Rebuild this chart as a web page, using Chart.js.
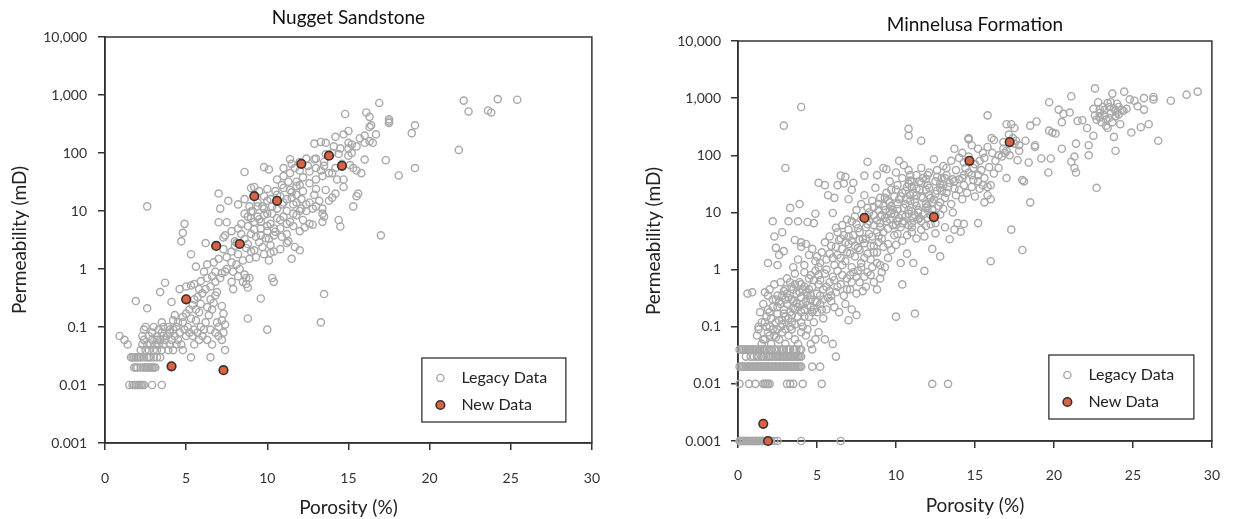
<!DOCTYPE html>
<html>
<head>
<meta charset="utf-8">
<script src="https://cdn.jsdelivr.net/npm/chart.js@4.4.1/dist/chart.umd.min.js"></script>
<style>
  body { margin: 0; background: #fff; }
  canvas { position: absolute; top: 0; }
</style>
</head>
<body>
<canvas id="nugget" width="620" height="519" style="left:0"></canvas>
<canvas id="minnelusa" width="619" height="519" style="left:620px"></canvas>
<script>
const FONT = "Lato, 'Open Sans', sans-serif";

const xTicks = [0, 5, 10, 15, 20, 25, 30];
const yTicks = [0.001, 0.01, 0.1, 1, 10, 100, 1000, 10000];
const yTickLabels = ["0.001", "0.01", "0.1", "1", "10", "100", "1,000", "10,000"];

// [porosity %, permeability mD]
const nuggetLegacy = [
  [1.5,0.01],[1.7,0.01],[1.8,0.01],[1.9,0.01],[2.0,0.01],[2.1,0.01],[2.2,0.01],[2.3,0.01],[2.4,0.01],[2.9,0.01],[3.5,0.01],
  [1.8,0.02],[1.9,0.02],[2.0,0.02],[2.2,0.02],[2.4,0.02],[2.5,0.02],[2.6,0.02],[2.7,0.02],[2.8,0.02],[2.9,0.02],[3.0,0.02],[3.1,0.02],
  [1.6,0.03],[1.7,0.03],[1.8,0.03],[1.9,0.03],[2.0,0.03],[2.1,0.03],[2.2,0.03],[2.4,0.03],[2.6,0.03],[2.7,0.03],[2.8,0.03],[3.0,0.03],[3.2,0.03],[3.4,0.03],[5.3,0.03],[6.5,0.03],
  [2.2,0.04],[2.5,0.04],[2.7,0.04],[3.0,0.04],[3.2,0.04],[3.5,0.04],[3.9,0.04],[4.2,0.04],[4.8,0.04],[7.4,0.04],
  [1.4,0.05],[2.3,0.05],[2.6,0.05],[2.8,0.05],[3.1,0.05],[3.3,0.05],[3.6,0.05],[4.0,0.05],[4.4,0.05],[4.7,0.05],[5.5,0.05],[6.6,0.05],
  [1.2,0.06],[2.4,0.06],[2.9,0.06],[3.2,0.06],[3.4,0.06],[3.7,0.06],[4.1,0.06],[4.5,0.06],[5.8,0.06],[6.3,0.06],[7.2,0.06],
  [0.9,0.07],[2.3,0.07],[2.7,0.07],[3.2,0.07],[3.6,0.07],[3.8,0.07],[4.3,0.07],[5.0,0.07],[5.4,0.07],[6.0,0.07],[7.0,0.07],
  [2.9,0.08],[3.5,0.08],[4.0,0.08],[4.6,0.08],[5.2,0.08],[5.7,0.08],[6.8,0.08],[7.3,0.08],
  [2.4,0.09],[3.3,0.09],[4.0,0.09],[4.2,0.09],[4.9,0.09],[5.5,0.09],[6.1,0.09],[6.5,0.09],
  [2.5,0.1],[3.0,0.1],[3.6,0.1],[3.9,0.1],[4.4,0.1],[5.1,0.1],[5.9,0.1],[7.0,0.1],[7.4,0.11],[10.0,0.09],
  [3.5,0.12],[4.2,0.13],[4.5,0.12],[4.8,0.12],[5.3,0.14],[5.6,0.13],[6.2,0.12],[6.9,0.12],[4.3,0.16],[4.8,0.15],[5.0,0.17],[5.2,0.2],[5.8,0.18],[6.4,0.16],[7.2,0.13],[5.6,0.2],[6.6,0.2],[7.3,0.17],[8.8,0.14],[13.3,0.12],
  [2.6,0.21],[1.9,0.28],[4.1,0.27],[5.4,0.24],[5.5,0.3],[5.9,0.25],[6.3,0.22],[6.7,0.26],[7.2,0.23],[6.5,0.3],[6.8,0.35],[6.9,0.4],[5.7,0.33],[6.0,0.38],[4.6,0.45],[5.0,0.5],[5.3,0.52],[5.8,0.45],[6.2,0.45],[3.4,0.4],[9.6,0.31],[13.5,0.37],[7.9,0.45],[8.5,0.6],[8.7,0.55],[8.8,0.48],
  [3.7,0.58],[5.5,0.55],[5.9,0.62],[6.3,0.7],[6.5,0.5],[6.8,0.6],[6.6,0.75],[7.1,0.7],[7.2,0.85],[7.4,0.9],[7.8,0.6],[8.2,0.75],[8.6,0.8],[8.9,0.7],[10.3,0.7],[10.4,0.6],[6.1,0.9],[6.8,0.9],[7.9,0.9],[8.3,1.0],[8.7,0.7],
  [5.6,1.1],[6.3,1.2],[6.7,1.3],[7.0,1.5],[7.5,1.0],[7.5,1.6],[7.8,1.3],[8.1,1.2],[8.5,1.4],[8.9,1.5],[9.3,1.6],[9.8,1.8],[10.1,1.4],[10.4,2.0],[9.0,2.0],[8.2,1.8],[7.3,2.2],[5.3,1.8],[6.2,2.8],[7.8,2.0],[8.0,2.5],[8.1,2.8],[8.8,2.7],[9.5,2.9],[10.2,2.6],[10.8,2.2],[11.2,2.8],[11.7,2.4],[12.0,2.1],[11.5,1.5],[8.7,2.3],[9.2,2.1],[9.7,2.4],[10.2,1.9],
  [4.7,3.0],[4.8,4.2],[4.9,6.0],[7.3,3.5],[7.4,3.8],[7.8,4.5],[8.0,3.0],[8.2,5.0],[8.4,4.0],[8.6,3.3],[8.8,5.5],[9.0,4.0],[9.2,4.8],[9.3,3.6],[9.6,5.0],[9.6,6.5],[9.9,3.4],[10.0,5.5],[10.1,3.3],[10.4,5.0],[10.5,4.4],[10.8,7.0],[10.9,3.6],[11.2,6.0],[11.3,3.0],[11.6,5.5],[12.0,4.5],[12.3,5.2],[12.6,6.0],[9.2,6.5],[9.5,7.2],[9.8,8.5],[10.2,6.0],[10.6,7.5],[11.0,8.0],[11.4,6.5],[11.6,9.0],[11.8,8.5],[12.2,7.0],[8.4,6.0],[8.8,8.0],[8.6,9.0],[9.0,7.5],[7.0,6.4],[7.5,6.4],[12.8,5.8],[13.4,6.5],[13.5,8.0],[13.4,9.0],[14.4,7.0],[14.5,5.4],[17.0,3.8],[10.0,9.0],[9.0,9.8],[9.6,3.8],[10.0,4.5],[10.4,3.8],[10.8,5.0],[11.2,4.0],
  [2.6,12],[7.1,11],[7.0,20],[7.6,15],[8.2,13],[8.6,16],[8.9,12],[9.4,14],[9.4,12],[9.8,11],[9.8,18],[10.2,16],[10.3,12],[10.6,19],[10.8,18],[11.0,14],[11.2,16],[11.4,23],[11.6,13],[11.8,27],[12.0,10],[12.1,11],[12.2,22],[12.4,13],[12.6,14],[12.6,30],[12.8,11],[13.0,12],[13.2,15],[13.4,11],[13.8,15],[14.2,20],[14.0,17],[15.3,12],[15.5,18],[15.6,20],[10.5,22],[11.0,25],[11.5,21],[12.0,28],[9.5,22],[10.0,24],[13.0,24],[14.7,26],[11.8,19],[12.9,19],[13.6,23],[10.9,28],[9.2,26],
  [9.1,10],[9.4,8],[9.7,12],[10.0,15],[10.3,9],[10.6,11],[10.9,13],[11.2,10],[11.5,17],[11.8,14],[12.1,16],[12.4,10],
  [8.6,47],[9.8,57],[10.1,52],[9.0,25],[10.6,35],[11.0,40],[11.4,45],[11.8,32],[12.2,38],[12.6,48],[13.0,35],[13.0,55],[13.4,40],[13.5,60],[13.3,50],[13.8,45],[14.0,45],[14.2,55],[14.6,65],[14.7,35],[15.3,55],[15.5,50],[15.8,45],[15.1,62],[12.4,80],[12.0,70],[11.4,78],[11.7,55],[11.0,55],[11.5,65],[12.0,50],[12.5,60],[13.0,80],[13.5,70],[12.9,78],[13.6,95],[14.0,100],[14.4,96],[15.0,90],[15.2,100],[16.0,77],[17.3,75],[19.1,55],[18.1,41],[11.3,32],[14.3,35],
  [12.9,145],[13.3,155],[13.6,150],[14.1,130],[14.2,190],[14.5,120],[14.7,210],[15.0,240],[15.2,140],[15.0,120],[15.0,150],[15.5,130],[15.7,180],[16.0,150],[16.0,200],[16.3,160],[16.5,150],[16.7,210],[16.3,280],[16.4,300],[16.1,500],[16.3,420],[14.8,470],[17.5,380],[17.5,350],[17.5,330],[16.9,730],[19.1,300],[18.9,220],[21.8,113],
  [22.1,800],[22.4,520],[24.2,850],[23.6,540],[23.8,500],[25.4,830]
];
const nuggetNew = [
  [5.0,0.3],[4.1,0.021],[7.3,0.018],[6.85,2.5],[8.3,2.7],[9.2,18],[10.6,15],[12.1,65],[13.8,90],[14.6,60]
];

const minnelusaLegacy = [
  [0.1,0.001],[0.15,0.001],[0.2,0.001],[0.3,0.001],[0.35,0.001],[0.4,0.001],[0.5,0.001],[0.55,0.001],[0.6,0.001],[0.7,0.001],[0.75,0.001],[0.8,0.001],[0.9,0.001],[0.95,0.001],[1.0,0.001],[1.1,0.001],[1.15,0.001],[1.2,0.001],[1.3,0.001],[1.35,0.001],[1.4,0.001],[1.5,0.001],[1.55,0.001],[1.6,0.001],[1.7,0.001],[1.8,0.001],[2.0,0.001],[2.1,0.001],[2.3,0.001],[2.5,0.001],[4.0,0.001],[6.5,0.001],
  [0.1,0.01],[0.7,0.01],[1.1,0.01],[1.6,0.01],[1.7,0.01],[1.8,0.01],[1.9,0.01],[2.0,0.01],[3.1,0.01],[3.3,0.01],[3.5,0.01],[4.1,0.01],[5.3,0.01],[12.3,0.01],[13.3,0.01],
  [0.1,0.02],[0.2,0.02],[0.3,0.02],[0.4,0.02],[0.5,0.02],[0.6,0.02],[0.7,0.02],[0.8,0.02],[0.9,0.02],[1.0,0.02],[1.1,0.02],[1.2,0.02],[1.3,0.02],[1.4,0.02],[1.5,0.02],[1.6,0.02],[1.7,0.02],[1.8,0.02],[1.9,0.02],[2.0,0.02],[2.1,0.02],[2.2,0.02],[2.3,0.02],[2.4,0.02],[2.5,0.02],[2.6,0.02],[2.7,0.02],[2.8,0.02],[2.9,0.02],[3.0,0.02],[3.1,0.02],[3.2,0.02],[3.3,0.02],[3.4,0.02],[3.5,0.02],[3.6,0.02],[3.7,0.02],[3.8,0.02],[3.9,0.02],[4.0,0.02],[4.7,0.02],[5.2,0.02],
  [0.5,0.03],[0.8,0.03],[1.0,0.03],[1.2,0.03],[1.3,0.03],[1.5,0.03],[1.6,0.03],[1.8,0.03],[1.9,0.03],[2.0,0.03],[2.1,0.03],[2.2,0.03],[2.4,0.03],[2.5,0.03],[2.6,0.03],[2.7,0.03],[2.8,0.03],[2.9,0.03],[3.0,0.03],[3.1,0.03],[3.2,0.03],[3.3,0.03],[3.4,0.03],[3.5,0.03],[3.6,0.03],[3.7,0.03],[3.8,0.03],[3.9,0.03],[4.0,0.03],
  [0.1,0.04],[0.2,0.04],[0.3,0.04],[0.4,0.04],[0.5,0.04],[0.6,0.04],[0.7,0.04],[0.8,0.04],[0.9,0.04],[1.0,0.04],[1.1,0.04],[1.2,0.04],[1.3,0.04],[1.4,0.04],[1.5,0.04],[1.6,0.04],[1.7,0.04],[1.8,0.04],[2.0,0.04],[2.1,0.04],[2.3,0.04],[2.4,0.04],[2.6,0.04],[2.8,0.04],[2.9,0.04],[3.1,0.04],[3.2,0.04],[3.3,0.04],[3.5,0.04],[3.6,0.04],[3.7,0.04],[3.9,0.04],[4.0,0.04],
  [1.2,0.07],[1.5,0.05],[1.7,0.06],[1.9,0.08],[2.1,0.05],[2.3,0.07],[2.5,0.09],[2.6,0.06],[2.8,0.08],[3.0,0.05],[3.2,0.07],[3.4,0.09],[3.6,0.06],[3.8,0.05],[4.0,0.08],[4.3,0.07],[4.6,0.05],[4.7,0.04],[4.9,0.06],[5.1,0.08],[5.5,0.06],[6.0,0.05],[6.2,0.03],[2.0,0.1],[2.7,0.1],[3.3,0.1],[4.1,0.1],[4.4,0.09],[1.3,0.1],
  [1.6,0.06],[1.8,0.1],[2.0,0.07],[2.2,0.09],[2.4,0.065],[2.6,0.13],[2.8,0.11],[3.0,0.09],[3.2,0.14],[3.4,0.16],[3.6,0.11],[1.5,0.12],[1.3,0.09],
  [1.4,0.18],[1.6,0.25],[1.7,0.12],[1.9,0.2],[2.1,0.14],[2.2,0.22],[2.4,0.12],[2.5,0.17],[2.6,0.28],[2.8,0.13],[2.9,0.2],[3.0,0.15],[3.1,0.25],[3.3,0.18],[3.4,0.12],[3.5,0.28],[3.6,0.2],[3.8,0.15],[3.9,0.25],[4.0,0.12],[4.2,0.2],[4.3,0.28],[4.5,0.15],[4.6,0.22],[4.8,0.12],[4.9,0.28],[5.0,0.18],[5.2,0.25],[5.4,0.14],[5.6,0.2],[5.9,0.28],[6.1,0.22],[6.4,0.18],[6.8,0.25],[7.0,0.13],[7.2,0.2],[7.5,0.16],[10.0,0.15],[11.2,0.17],
  [3.8,0.22],[4.0,0.18],[4.2,0.15],[4.4,0.24],[4.6,0.3],[4.8,0.2],[5.0,0.27],[5.2,0.35],[5.4,0.3],[5.6,0.5],[5.8,0.42],[2.0,0.18],[1.8,0.15],[2.9,0.17],[3.5,0.21],[4.1,0.25],[4.7,0.18],[5.3,0.2],[5.9,0.35],
  [0.6,0.38],[0.9,0.4],[1.7,0.4],[2.0,0.45],[1.9,0.35],[2.3,0.55],[2.5,0.35],[2.7,0.6],[2.9,0.42],[3.1,0.7],[3.2,0.32],[3.4,0.5],[3.6,0.85],[3.7,0.38],[3.9,0.6],[4.1,0.45],[4.2,0.9],[4.4,0.35],[4.5,0.7],[4.7,0.5],[4.9,0.95],[5.0,0.38],[5.2,0.65],[5.4,0.45],[5.5,0.85],[5.7,0.32],[5.8,0.6],[6.0,0.75],[6.2,0.4],[6.3,0.95],[6.5,0.55],[6.7,0.35],[6.9,0.7],[7.1,0.45],[7.3,0.9],[7.5,0.38],[7.7,0.6],[7.9,0.42],[8.1,0.5],[8.4,0.8],[8.6,0.6],[8.8,0.45],[9.0,0.7],[10.4,0.55],[11.8,0.95],
  [3.0,0.45],[3.3,0.6],[3.6,0.55],[3.9,0.4],[4.2,0.5],[4.5,0.45],[4.8,0.65],[5.1,0.8],[2.2,0.3],[2.5,0.22],[2.8,0.35],[3.1,0.38],[3.4,0.3],[3.7,0.26],[4.0,0.33],[4.3,0.4],[4.6,0.36],[6.3,0.5],[6.6,0.8],[6.9,0.45],[7.2,0.6],[7.5,0.75],[7.8,1.1],[8.2,0.9],[8.5,1.1],[8.8,1.3],[9.1,0.9],[9.3,1.1],
  [4.6,0.8],[5.1,0.55],[5.6,1.0],[6.1,0.65],[6.6,1.2],[7.1,0.8],[7.6,0.95],[8.0,0.75],[4.0,0.55],[3.5,0.45],[3.0,0.3],[2.7,0.25],[2.4,0.3],
  [1.9,1.3],[2.5,1.2],[2.6,1.8],[2.9,2.1],[3.5,1.1],[3.8,1.5],[4.0,2.5],[4.2,1.2],[4.5,1.8],[4.7,2.3],[4.9,1.4],[5.1,1.1],[5.3,2.0],[5.6,1.5],[5.9,2.6],[6.1,1.2],[6.3,1.8],[6.6,2.3],[6.8,1.4],[7.0,2.8],[7.2,1.1],[7.4,1.7],[7.6,2.4],[7.8,1.3],[8.0,2.9],[8.2,1.9],[8.4,1.5],[8.6,2.6],[8.8,2.0],[9.0,1.2],[9.2,2.5],[9.5,1.6],[9.7,2.2],[10.0,2.7],[10.3,1.3],[10.7,1.9],[11.1,1.3],[12.3,2.3],[12.8,1.7],[16.0,1.4],[18.0,2.2],[2.4,2.4],
  [5.0,1.7],[5.5,3.0],[6.0,1.6],[6.4,3.3],[6.9,2.0],[7.3,4.0],[7.7,2.2],[8.1,3.5],[8.4,2.6],[8.9,3.0],
  [5.2,1.3],[5.8,1.9],[6.2,2.5],[6.5,1.6],[6.8,3.0],[7.1,1.9],[7.4,2.6],[7.7,3.3],[8.0,1.6],[8.3,4.2],[8.6,2.0],[8.9,3.8],[9.2,4.5],[9.5,2.8],
  [2.2,7],[2.3,3.8],[2.8,4.5],[3.2,7],[3.8,7],[4.4,6.8],[4.8,6.5],[3.6,3.3],[4.0,3.0],[4.3,2.8],[4.9,9.5],
  [6.0,9.8],[6.2,5.4],[6.5,3.5],[6.7,4.0],[6.9,7.5],[7.0,5.0],[7.2,3.2],[7.4,8.5],[7.5,6.2],[7.7,4.5],[7.9,3.4],[8.1,5.5],[8.3,7.0],[8.5,3.8],[8.6,9.0],[8.8,4.5],[9.0,6.5],[9.1,3.5],[9.3,8.0],[9.5,5.2],[9.7,9.5],[9.9,4.0],[10.1,7.0],[10.3,5.5],[10.4,3.2],[10.6,8.5],[10.8,6.0],[11.0,4.5],[11.2,9.0],[11.4,7.5],[11.6,5.0],[11.8,3.8],[12.0,8.0],[12.2,6.2],[12.5,4.3],[12.8,9.2],[13.1,5.5],[13.4,3.4],[13.7,5.0],[14.1,4.6],[14.3,6.3],[13.9,6.5],[15.2,6.5],[17.3,5.0],
  [9.8,6.0],[10.1,4.2],[10.4,6.5],[10.7,4.0],[11.0,5.5],[11.3,3.5],[11.6,7.0],[11.9,5.8],[12.2,9.0],[12.5,6.5],[9.0,5.5],[9.6,7.5],[10.2,8.0],[10.8,9.5],[11.4,10],[12.0,11],[7.0,3.8],[7.6,5.3],[8.2,6.2],[8.8,7.3],[6.3,4.5],[5.8,3.8],[6.6,6.0],[7.2,7.0],
  [3.3,12],[3.9,14],[5.7,20],[6.1,18],[6.3,30],[6.7,32],[6.8,42],[7.0,17],[7.2,25],[7.5,11],[7.8,14],[8.0,20],[8.2,12],[8.5,16],[8.7,27],[8.9,11],[9.0,18],[9.2,13],[9.4,22],[9.6,15],[9.8,11],[10.0,25],[10.1,14],[10.3,19],[10.5,12],[10.7,28],[10.9,16],[11.1,22],[11.3,13],[11.5,25],[11.7,18],[11.9,12],[12.1,27],[12.3,15],[12.5,21],[12.7,13],[12.9,24],[13.1,18],[13.3,28],[13.5,14],[13.6,10],[13.8,20],[14.0,25],[14.2,17],[14.5,22],[14.8,28],[15.0,19],[15.3,26],[15.6,15],[15.8,20],[16.0,30],[16.0,17],[18.5,15],[13.0,11.5],[11.0,10.5],[9.6,10.5],
  [8.3,10],[8.6,12.5],[8.9,14],[9.1,9],[9.3,11],[9.5,16],[9.7,13],[9.9,9.5],[10.1,11.5],[10.2,17],[10.4,9],[10.6,14],[10.8,11],[10.9,20],[11.1,8],[11.2,15],[11.4,11],[11.6,19],[11.8,9.5],[11.9,14],[12.1,20],[12.3,11],[12.4,17],[12.6,24],[12.8,15],[13.0,30],[13.2,22],[10.0,6],[10.5,7],[11.0,6.5],[11.5,8],[9.4,7],[9.0,8.5],[8.6,6],[8.2,8.5],[12.5,9],[12.0,13],[11.3,26],[10.6,24],[9.9,19],
  [9.3,18],[9.7,25],[10.1,30],[10.4,22],[10.7,17],[11.0,28],[11.3,20],[11.6,33],[11.9,25],[12.2,18],[12.5,35],[12.8,27],[13.1,40],[13.4,33],[13.7,26],[14.0,38],[14.3,30],[14.6,50],[14.9,37],[15.2,45],[15.5,30],[15.8,28],
  [3.0,60],[5.1,33],[5.5,30],[6.5,44],[7.3,33],[8.0,44],[8.2,77],[8.8,45],[9.2,60],[9.4,57],[9.6,35],[10.0,50],[10.2,80],[10.4,40],[10.5,67],[10.8,55],[11.0,35],[11.3,45],[11.6,60],[11.9,38],[12.1,50],[12.4,85],[12.6,42],[12.8,32],[13.0,65],[13.2,45],[13.5,80],[13.7,35],[13.8,55],[14.0,90],[14.2,40],[14.4,60],[14.6,95],[14.8,45],[15.0,70],[15.2,35],[15.4,55],[15.6,40],[15.9,62],[16.2,48],[16.5,60],[17.0,40],[17.7,82],[18.0,37],[18.1,35],[18.4,75],[19.2,88],[19.65,50],[19.8,88],[21.1,77],[21.3,95],[21.3,60],[21.4,50],[22.2,100],[22.7,27],[12.0,30],[10.8,32],[12.9,40],[13.6,38],[14.3,45],[11.7,40],[10.9,45],
  [13.2,60],[12.6,55],[12.0,45],[11.5,35],[10.9,36],[14.9,60],[15.3,80],[15.6,90],[14.3,75],[16.3,80],[16.7,95],[17.2,100],
  [10.8,290],[10.8,220],[11.6,180],[13.7,130],[14.6,200],[14.6,190],[14.8,150],[15.2,130],[15.5,110],[16.05,200],[16.2,185],[16.8,130],[16.9,110],[17.0,120],[17.15,230],[17.5,160],[17.6,180],[17.8,120],[18.8,150],[18.8,140],[19.7,270],[19.9,250],[20.1,240],[20.5,130],[21.4,160],[22.2,150],[22.5,220],[23.8,210],[23.9,120],[24.9,250],[26.6,180],[16.5,100],[15.8,140],[14.2,110],
  [16.1,110],[17.8,150],[18.2,180],[17.4,200],[16.8,170],
  [2.9,330],[4.0,700],[15.8,500],[17.0,350],[17.3,350],[17.5,300],[18.5,330],[18.9,390],[19.7,850],[20.3,630],[20.5,380],[20.6,530],[21.0,560],[21.1,1080],[21.5,400],[21.8,410],[22.1,300],[22.6,1480],[22.5,650],[22.9,640],[23.2,500],[23.5,450],[23.7,1200],[23.9,600],[24.1,700],[24.3,620],[23.0,380],[23.3,330],[23.6,550],[23.9,480],[24.2,350],[22.8,850],[23.4,820],[24.45,1300],[24.8,950],[25.1,900],[25.3,720],[25.5,310],[25.7,1000],[25.7,630],[26.0,350],[26.3,1050],[26.3,950],[27.4,900],[28.4,1150],[29.1,1300],[22.7,420],[23.1,700],[24.0,560],[23.4,300],
  [22.9,550],[23.2,620],[23.5,700],[23.8,650],[24.1,520],[24.4,600],[23.3,420],[23.7,380],[22.6,500],[24.6,650],[22.9,460],[23.6,850],[24.0,800]
];
const minnelusaNew = [
  [1.6,0.002],[1.9,0.001],[8.0,8],[12.4,8.3],[14.65,80],[17.2,170]
];

const toPoints = arr => arr.map(([x, y]) => ({ x, y }));

// box around the plot area
const framePlugin = {
  id: 'frame',
  beforeDatasetsDraw(chart) {
    const { ctx, chartArea: a } = chart;
    ctx.save();
    ctx.strokeStyle = '#333';
    ctx.lineWidth = 1.5;
    ctx.strokeRect(a.left, a.top, a.right - a.left, a.bottom - a.top);
    ctx.restore();
  }
};

// legend drawn in a framed box, lower right of the plot
const boxLegend = {
  id: 'boxLegend',
  afterDraw(chart, args, opts) {
    const { ctx, chartArea: a } = chart;
    const x = a.right - opts.right - opts.width;
    const y = a.bottom - opts.bottom - opts.height;
    ctx.save();
    ctx.fillStyle = '#fff';
    ctx.fillRect(x, y, opts.width, opts.height);
    ctx.strokeStyle = '#222';
    ctx.lineWidth = 1.2;
    ctx.strokeRect(x, y, opts.width, opts.height);
    chart.data.datasets.forEach((ds, i) => {
      const cy = y + 20 + i * 27;
      ctx.beginPath();
      ctx.arc(x + 18.5, cy, ds.pointRadius, 0, Math.PI * 2);
      ctx.fillStyle = ds.pointBackgroundColor;
      ctx.fill();
      ctx.lineWidth = ds.pointBorderWidth;
      ctx.strokeStyle = ds.pointBorderColor;
      ctx.stroke();
      ctx.fillStyle = '#222';
      ctx.font = `16px ${FONT}`;
      ctx.textBaseline = 'middle';
      ctx.fillText(ds.label, x + 39.5, cy);
    });
    ctx.restore();
  }
};

function makeChart(id, title, legacy, fresh, cfg) {
  return new Chart(document.getElementById(id), {
    type: 'scatter',
    data: {
      datasets: [
        {
          label: 'Legacy Data', data: toPoints(legacy), order: 1, clip: false,
          pointRadius: 3.6, pointHoverRadius: 3.6,
          pointBackgroundColor: 'rgba(255,255,255,0)', pointBorderColor: '#a8a8a8', pointBorderWidth: 1.4
        },
        {
          label: 'New Data', data: toPoints(fresh), order: 0, clip: false,
          pointRadius: 4.3, pointHoverRadius: 4.3,
          pointBackgroundColor: '#e0603f', pointBorderColor: '#333', pointBorderWidth: 1.6
        }
      ]
    },
    options: {
      responsive: false,
      animation: false,
      events: [],
      layout: { padding: { left: 0, right: cfg.padRight, top: 0, bottom: 0 } },
      plugins: {
        legend: { display: false },
        tooltip: { enabled: false },
        title: {
          display: true, text: title, fullSize: false, color: '#111',
          font: { family: FONT, size: 19, weight: 'normal' },
          padding: { top: cfg.titleTop, bottom: cfg.titleBottom }
        },
        boxLegend: cfg.legend
      },
      scales: {
        x: {
          type: 'linear', min: 0, max: 30,
          afterBuildTicks: s => { s.ticks = xTicks.map(v => ({ value: v })); },
          afterFit: s => { s.height = cfg.xHeight; },
          ticks: { color: '#333', font: { family: FONT, size: 14 }, padding: cfg.xPad, maxRotation: 0 },
          grid: { drawOnChartArea: false, tickLength: 7, color: '#333', lineWidth: 1.5 },
          border: { color: '#333', width: 1.5 },
          title: {
            display: true, text: 'Porosity (%)', color: '#222',
            font: { family: FONT, size: 19 }, padding: { top: 0, bottom: cfg.xTitlePad }
          }
        },
        y: {
          type: 'logarithmic', min: 0.001, max: 10000,
          afterBuildTicks: s => { s.ticks = yTicks.map(v => ({ value: v })); },
          afterFit: s => { s.width = cfg.yWidth; },
          ticks: {
            color: '#333', font: { family: FONT, size: 14 }, padding: cfg.yPad,
            callback: (v, i) => yTickLabels[i]
          },
          grid: { drawOnChartArea: false, tickLength: 7, color: '#333', lineWidth: 1.5 },
          border: { color: '#333', width: 1.5 },
          title: {
            display: true, text: 'Permeability (mD)', color: '#222',
            font: { family: FONT, size: 19 }, padding: { top: cfg.yTitlePad, bottom: 0 }
          }
        }
      }
    },
    plugins: [framePlugin, boxLegend]
  });
}

makeChart('nugget', 'Nugget Sandstone', nuggetLegacy, nuggetNew, {
  padRight: 23, titleTop: 6.6, titleBottom: 7.6, xHeight: 76, xPad: 20, xTitlePad: 0,
  yWidth: 105, yPad: 11, yTitlePad: 8.6,
  legend: { right: 26, bottom: 21, width: 144, height: 64 }
});

makeChart('minnelusa', 'Minnelusa Formation', minnelusaLegacy, minnelusaNew, {
  padRight: 22, titleTop: 13.6, titleBottom: 4.6, xHeight: 78, xPad: 19, xTitlePad: 2,
  yWidth: 118, yPad: 10, yTitlePad: 22.6,
  legend: { right: 18, bottom: 22, width: 145, height: 64 }
});
</script>
</body>
</html>
